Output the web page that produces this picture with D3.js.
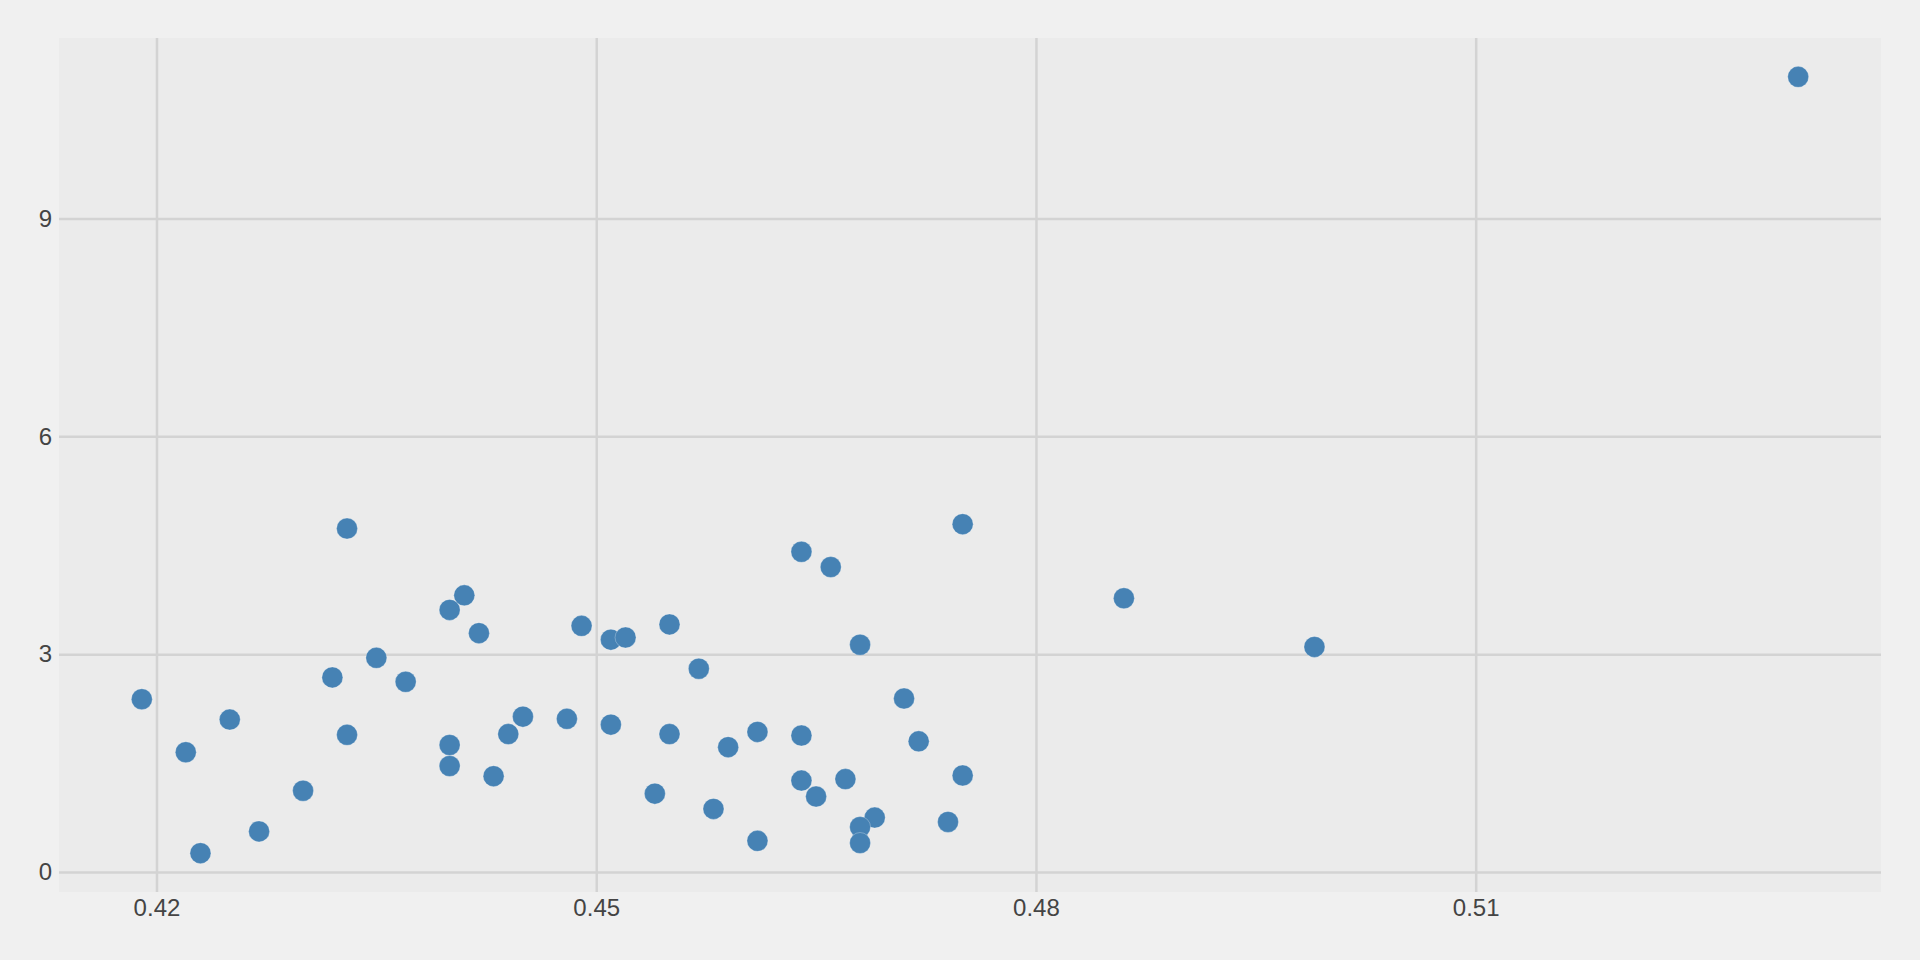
<!DOCTYPE html>
<html>
<head>
<meta charset="utf-8">
<script src="https://cdn.jsdelivr.net/npm/d3@7"></script>
<style>
  html, body { margin: 0; padding: 0; background: #f0f0f0; }
  svg { display: block; }
  .tick text { font-family: "Liberation Sans", Arial, sans-serif; fill: #444; }
</style>
</head>
<body>
<svg id="chart" width="1920" height="960"></svg>
<script>
const xValues = [0.433, 0.441, 0.440, 0.442, 0.449, 0.435, 0.432, 0.437, 0.419, 0.425,
                 0.445, 0.448, 0.444, 0.433, 0.440, 0.422, 0.440, 0.443, 0.430, 0.427,
                 0.423, 0.475, 0.464, 0.466, 0.451, 0.452, 0.455, 0.468, 0.457, 0.471,
                 0.451, 0.455, 0.459, 0.461, 0.464, 0.472, 0.475, 0.454, 0.464, 0.467,
                 0.465, 0.458, 0.469, 0.468, 0.468, 0.461, 0.474, 0.486, 0.499, 0.532];
const yValues = [4.73, 3.81, 3.61, 3.29, 3.39, 2.95, 2.68, 2.62, 2.38, 2.10,
                 2.14, 2.11, 1.90, 1.89, 1.75, 1.65, 1.46, 1.32, 1.12, 0.56,
                 0.26, 4.79, 4.41, 4.20, 3.20, 3.23, 3.41, 3.13, 2.80, 2.39,
                 2.03, 1.90, 1.72, 1.93, 1.88, 1.80, 1.33, 1.08, 1.26, 1.28,
                 1.04, 0.87, 0.75, 0.62, 0.40, 0.43, 0.69, 3.77, 3.10, 10.95];
const xTicks = [0.42, 0.45, 0.48, 0.51];
const yTicks = [0, 3, 6, 9];

const points = xValues.map((x, i) => ({ x, y: yValues[i] }));

const svg = d3.select("#chart");
const margin = { left: 59, right: 39, top: 38, bottom: 68 };
const W = 1920, H = 960;
const innerW = W - margin.left - margin.right;
const innerH = H - margin.top - margin.bottom;

const xExt = d3.extent(xValues), yExt = d3.extent(yValues);
const xPad = (xExt[1] - xExt[0]) * 0.05, yPad = (yExt[1] - yExt[0]) * 0.05;

const x = d3.scaleLinear().domain([xExt[0] - xPad, xExt[1] + xPad]).range([0, innerW]);
const y = d3.scaleLinear().domain([yExt[0] - yPad, yExt[1] + yPad]).range([innerH, 0]);

svg.append("rect").attr("width", W).attr("height", H).attr("fill", "#f0f0f0");

const g = svg.append("g").attr("transform", `translate(${margin.left},${margin.top})`);
g.append("rect").attr("width", innerW).attr("height", innerH).attr("fill", "#ebebeb");

const xAxis = g.append("g").attr("transform", `translate(0,${innerH})`)
  .call(d3.axisBottom(x).tickValues(xTicks).tickFormat(d3.format(".2f")).tickSize(-innerH).tickPadding(7));
const yAxis = g.append("g")
  .call(d3.axisLeft(y).tickValues(yTicks).tickFormat(d3.format("d")).tickSize(-innerW).tickPadding(7));

[xAxis, yAxis].forEach(a => {
  a.select(".domain").remove();
  a.selectAll(".tick line").attr("stroke", "#d3d3d3").attr("stroke-width", 2.5);
  a.selectAll(".tick text").attr("font-size", 24).attr("fill", "#444");
});

g.append("g").selectAll("circle").data(points).join("circle")
  .attr("cx", d => x(d.x))
  .attr("cy", d => y(d.y))
  .attr("r", 10.5)
  .attr("fill", "#4682b4")
  .attr("stroke", "rgba(255,255,255,0.35)")
  .attr("stroke-width", 0.8);
</script>
</body>
</html>
